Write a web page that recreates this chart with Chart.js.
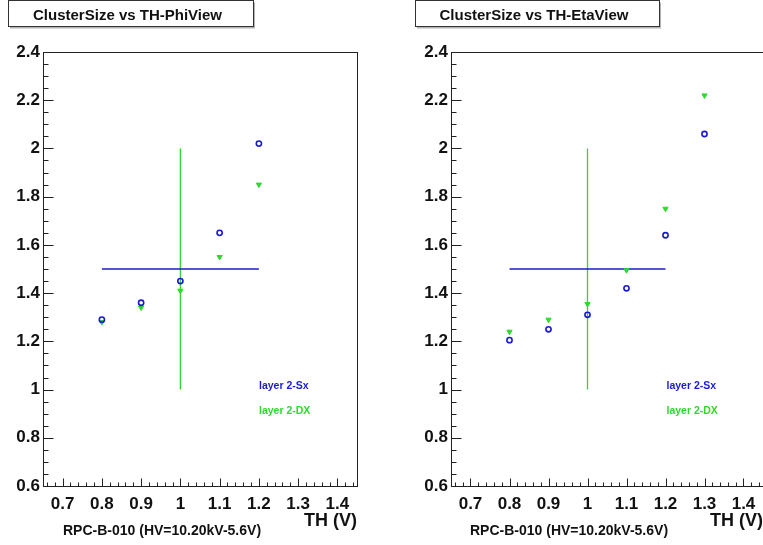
<!DOCTYPE html>
<html>
<head>
<meta charset="utf-8">
<script src="https://cdn.jsdelivr.net/npm/chart.js@4/dist/chart.umd.min.js"></script>
<style>
  html, body { margin: 0; padding: 0; background: #fff; overflow: hidden; }
  #wrap { position: relative; width: 763px; height: 545px; overflow: hidden; background: #fff; }
  canvas { position: absolute; top: 0; }
</style>
</head>
<body>
<div id="wrap">
  <canvas id="phi" width="409" height="545" style="left:0px"></canvas>
  <canvas id="eta" width="409" height="545" style="left:408px"></canvas>
</div>
<script>
// Threshold scan, Phi view
const thPhi = [0.8, 0.9, 1.0, 1.1, 1.2];
const phiSx = [1.29, 1.36, 1.45, 1.65, 2.02];
const phiDx = [1.28, 1.34, 1.41, 1.55, 1.85];

// Threshold scan, Eta view
const thEta = [0.8, 0.9, 1.0, 1.1, 1.2, 1.3];
const etaSx = [1.205, 1.25, 1.31, 1.42, 1.64, 2.06];
const etaDx = [1.24, 1.29, 1.355, 1.495, 1.75, 2.22];

// Reference cross: horizontal segment (layer 2-Sx colour) and vertical segment (layer 2-DX colour)
const crossHX = [0.8, 1.2];
const crossHY = [1.5, 1.5];
const crossVX = [1.0, 1.0];
const crossVY = [1.0, 2.0];

// Axis ticks
const xTicks = [0.7, 0.8, 0.9, 1.0, 1.1, 1.2, 1.3, 1.4];
const yTicks = [0.6, 0.8, 1.0, 1.2, 1.4, 1.6, 1.8, 2.0, 2.2, 2.4];

const legendSx = 'layer 2-Sx';
const legendDx = 'layer 2-DX';
const xTitle = 'TH (V)';
const runNote = 'RPC-B-010 (HV=10.20kV-5.6V)';

const BLUE = '#1a1ad0';
const GREEN = '#2fd82f';
const INK = '#111';
const FONT = '"Liberation Sans", Arial, Helvetica, sans-serif';

const pts = (xs, ys) => xs.map((x, i) => ({ x: x, y: ys[i] }));
const fmt = v => String(Number(v.toFixed(2)));

// Frame, inward tick marks, title box, legend and run note
const panelDecor = {
  id: 'panelDecor',
  beforeDraw(chart) {
    const ctx = chart.ctx;
    ctx.save();
    ctx.fillStyle = '#fff';
    ctx.fillRect(0, 0, chart.width, chart.height);
    ctx.restore();
  },
  afterDraw(chart, args, o) {
    const ctx = chart.ctx;
    const a = chart.chartArea;
    const xs = chart.scales.x, ys = chart.scales.y;
    ctx.save();

    // frame
    const L = Math.round(a.left) + 0.5, R = Math.round(a.right) + 0.5;
    const T = Math.round(a.top) + 0.5, B = Math.round(a.bottom) + 0.5;
    ctx.strokeStyle = '#222';
    ctx.lineWidth = 1;
    ctx.strokeRect(L, T, R - L, B - T);

    // x tick marks every 0.02, long every 0.1
    ctx.beginPath();
    for (let k = 33; k <= 72; k++) {
      const px = Math.round(xs.getPixelForValue(k / 50)) + 0.5;
      const len = (k % 5 === 0) ? 8 : 4;
      ctx.moveTo(px, B);
      ctx.lineTo(px, B - len);
    }
    // y tick marks every 0.05, long every 0.2
    for (let k = 12; k <= 48; k++) {
      const py = Math.round(ys.getPixelForValue(k / 20)) + 0.5;
      const len = (k % 4 === 0) ? 10 : 5;
      ctx.moveTo(L, py);
      ctx.lineTo(L + len, py);
    }
    ctx.stroke();

    // title box with shadow
    const bx = o.boxLeft, bw = o.boxRight - o.boxLeft, by = 0.5, bh = 26;
    ctx.fillStyle = '#b4b4b4';
    ctx.fillRect(bx + 2, by + 2, bw, bh);
    ctx.fillStyle = '#fff';
    ctx.fillRect(bx, by, bw, bh);
    ctx.strokeStyle = '#333';
    ctx.strokeRect(bx + 0.5, by, bw, bh);
    ctx.fillStyle = INK;
    ctx.font = 'bold 15px ' + FONT;
    ctx.textAlign = 'center';
    ctx.textBaseline = 'middle';
    ctx.fillText(o.title, bx + bw / 2 - 3, 16);

    // legend entries, coloured text only
    ctx.font = 'bold 10.5px ' + FONT;
    ctx.textAlign = 'left';
    const sets = chart.data.datasets.filter(d => d.inLegend);
    sets.forEach((d, i) => {
      ctx.fillStyle = d.borderColor;
      ctx.fillText(d.label, o.legendX, 386 + i * 25);
    });

    // run note under the axis
    ctx.fillStyle = INK;
    ctx.font = 'bold 14px ' + FONT;
    ctx.textAlign = 'left';
    ctx.fillText(o.note, o.noteX, 531);

    ctx.restore();
  }
};

function makePanel(id, th, sx, dx, deco) {
  const PANEL_W = 409;
  return new Chart(document.getElementById(id), {
    type: 'scatter',
    data: {
      datasets: [
        {
          label: legendSx, inLegend: true,
          data: pts(th, sx),
          borderColor: BLUE, backgroundColor: 'rgba(0,0,0,0)',
          pointStyle: 'circle', pointRadius: 2.6, pointBorderWidth: 1.6,
          showLine: false
        },
        {
          label: legendDx, inLegend: true,
          data: pts(th, dx),
          borderColor: GREEN, backgroundColor: GREEN,
          pointStyle: 'triangle', rotation: 180, pointRadius: 3, pointBorderWidth: 1,
          showLine: false
        },
        {
          label: 'cross-h',
          data: pts(crossHX, crossHY),
          borderColor: BLUE, borderWidth: 1.3, pointRadius: 0,
          showLine: true, fill: false
        },
        {
          label: 'cross-v',
          data: pts(crossVX, crossVY),
          borderColor: GREEN, borderWidth: 1.3, pointRadius: 0,
          showLine: true, fill: false
        }
      ]
    },
    options: {
      responsive: false,
      animation: false,
      devicePixelRatio: 1,
      layout: { padding: { left: 0, top: 52, right: PANEL_W - deco.areaRight, bottom: 0 } },
      plugins: {
        legend: { display: false },
        tooltip: { enabled: false },
        panelDecor: deco
      },
      scales: {
        x: {
          type: 'linear', min: 0.65, max: 1.45,
          grid: { display: false, drawTicks: false },
          border: { display: false },
          afterFit: s => { s.height = 59; },
          afterBuildTicks: s => { s.ticks = xTicks.map(v => ({ value: v })); },
          ticks: {
            callback: v => fmt(v),
            color: INK, padding: 8, maxRotation: 0, autoSkip: false,
            font: { family: FONT, size: 17, weight: 'bold' }
          },
          title: {
            display: true, text: xTitle, align: 'end', color: INK,
            padding: { top: 0, bottom: 13 },
            font: { family: FONT, size: 18, weight: 'bold' }
          }
        },
        y: {
          type: 'linear', min: 0.6, max: 2.4,
          grid: { display: false, drawTicks: false },
          border: { display: false },
          afterFit: s => { s.width = 43; },
          afterBuildTicks: s => { s.ticks = yTicks.map(v => ({ value: v })); },
          ticks: {
            callback: v => fmt(v),
            color: INK, padding: 3, autoSkip: false,
            font: { family: FONT, size: 17, weight: 'bold' }
          }
        }
      }
    },
    plugins: [panelDecor]
  });
}

makePanel('phi', thPhi, phiSx, phiDx, {
  title: 'ClusterSize vs TH-PhiView', note: runNote,
  boxLeft: 8, boxRight: 253, legendX: 259, noteX: 63, areaRight: 357
});
makePanel('eta', thEta, etaSx, etaDx, {
  title: 'ClusterSize vs TH-EtaView', note: runNote,
  boxLeft: 7, boxRight: 251, legendX: 258.5, noteX: 62, areaRight: 355
});
</script>
</body>
</html>
